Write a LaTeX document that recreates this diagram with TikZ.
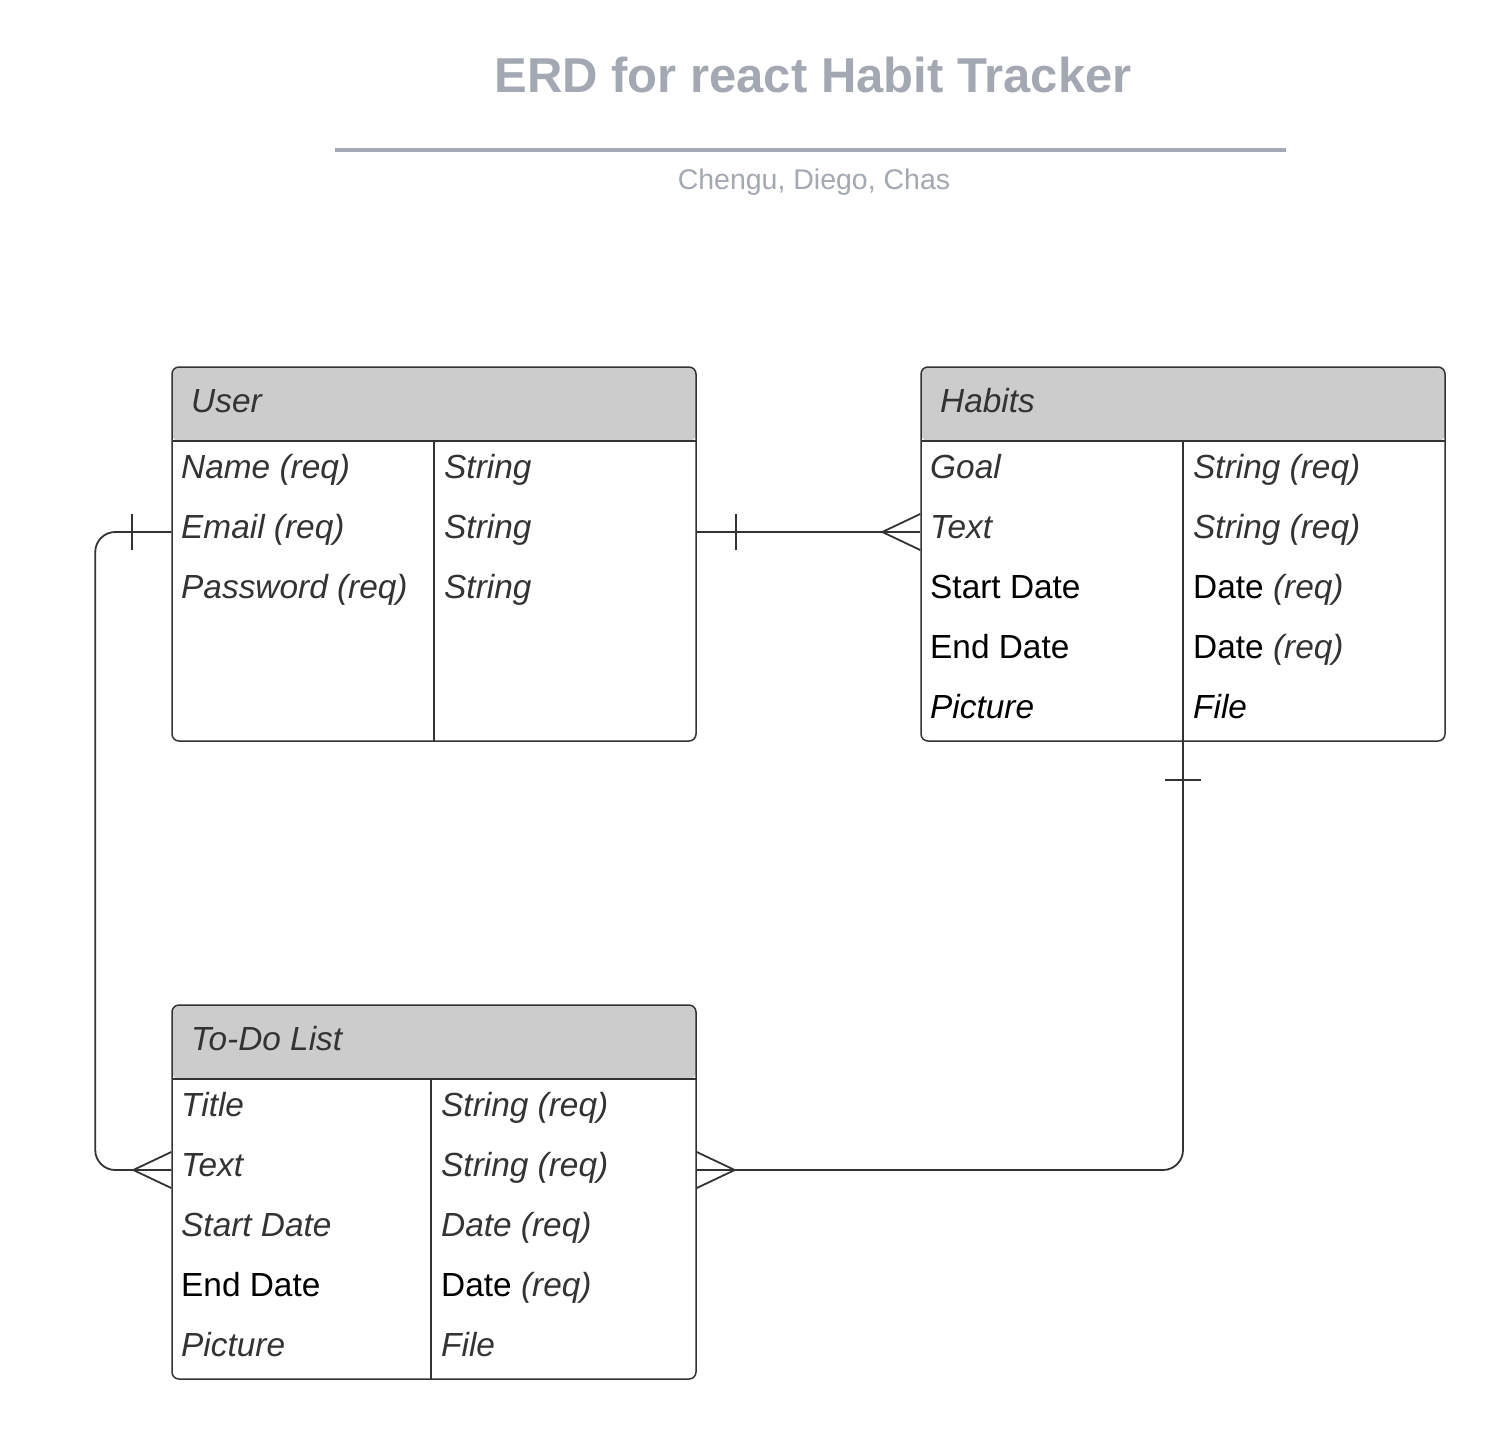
\documentclass[tikz,border=0pt]{standalone}
\usepackage{fontspec}
\setmainfont{Liberation Sans}
\usetikzlibrary{positioning,calc}

\definecolor{titlegray}{HTML}{A3A8B2}
\definecolor{ink}{HTML}{333333}
\definecolor{headfill}{HTML}{CCCCCC}

\newcommand\grayit[1]{\textcolor{ink}{\itshape #1}}

\tikzset{
  entitybox/.style={draw=ink, line width=1.5pt, fill=white, rounded corners=7pt,
    minimum width=524pt, minimum height=374pt, inner sep=0pt,
    path picture={\fill[headfill] (path picture bounding box.north west)
      rectangle ([yshift=-74pt]path picture bounding box.north east);}},
  attr/.style={anchor=base west, inner sep=0pt, font=\fontsize{33.4}{40}\selectfont},
  rel/.style={draw=ink, line width=1.8pt},
}

\begin{document}
\begin{tikzpicture}[x=1pt,y=-1pt]

\useasboundingbox (0,0) rectangle (1498,1440);
\fill[white] (0,0) rectangle (1498,1440);

% #1 name, #2 title, #3 divider, #4 rows
\def\entity#1#2#3#4{
  \node[entitybox] (#1) at (262,187) {};
  \draw[ink, line width=1.5pt] (0,74) -- (524,74);
  \draw[ink, line width=1.5pt] (#3,74) -- (#3,374);
  \coordinate (#1-div) at (#3,374);
  \node[attr] (#1-title) at (19,45) {\grayit{#2}};
  \foreach \a/\b [count=\i] in {#4} {
    \node[attr] (#1-\i-a) at (9,51+60*\i) {\a};
    \node[attr] (#1-\i-b) at (#3+10,51+60*\i) {\b};
    \coordinate (#1-r\i) at (0,45+60*\i);
  }
}

% #1 end point, #2 outward angle
\def\onebar#1#2{
  \draw[rel] ($(#1)+(#2:39)+(#2+90:18)$) -- ($(#1)+(#2:39)+(#2-90:18)$);
}
\def\crowfoot#1#2{
  \draw[rel] ($(#1)+(#2+90:18)$) -- ($(#1)+(#2:38)$) -- ($(#1)+(#2-90:18)$);
}

\node[font=\bfseries\fontsize{49}{59}\selectfont, text=titlegray, anchor=base] (title) at (813,92) {ERD for react Habit Tracker};
\draw[titlegray, line width=4pt] (335,150) -- (1286,150);
\node[font=\fontsize{28.5}{34}\selectfont, text=titlegray, anchor=base] (authors) at (814,189) {Chengu, Diego, Chas};

\begin{scope}[shift={(172,367)}]
  \entity{user}{User}{262}{\grayit{Name (req)}/\grayit{String},
    \grayit{Email (req)}/\grayit{String}, \grayit{Password (req)}/\grayit{String}}
\end{scope}

\begin{scope}[shift={(921,367)}]
  \entity{habits}{Habits}{262}{\grayit{Goal}/\grayit{String (req)},
    \grayit{Text}/\grayit{String (req)}, Start Date/Date \grayit{(req)},
    End Date/Date \grayit{(req)}, \textit{Picture}/\textit{File}}
\end{scope}

\begin{scope}[shift={(172,1005)}]
  \entity{todo}{To-Do List}{259}{\grayit{Title}/\grayit{String (req)},
    \grayit{Text}/\grayit{String (req)}, \grayit{Start Date}/\grayit{Date (req)},
    End Date/Date \grayit{(req)}, \grayit{Picture}/\grayit{File}}
\end{scope}

\draw[rel, rounded corners=20pt] (user.west |- user-r2) -- ++(-76,0) |- (todo.west |- todo-r2);
\draw[rel] (user.east |- user-r2) -- (habits.west |- user-r2);
\draw[rel, rounded corners=20pt] (habits-div) |- (todo.east |- todo-r2);

\onebar{user.west |- user-r2}{180}
\crowfoot{todo.west |- todo-r2}{180}
\onebar{user.east |- user-r2}{0}
\crowfoot{habits.west |- user-r2}{180}
\onebar{habits-div}{90}
\crowfoot{todo.east |- todo-r2}{0}

\end{tikzpicture}
\end{document}
